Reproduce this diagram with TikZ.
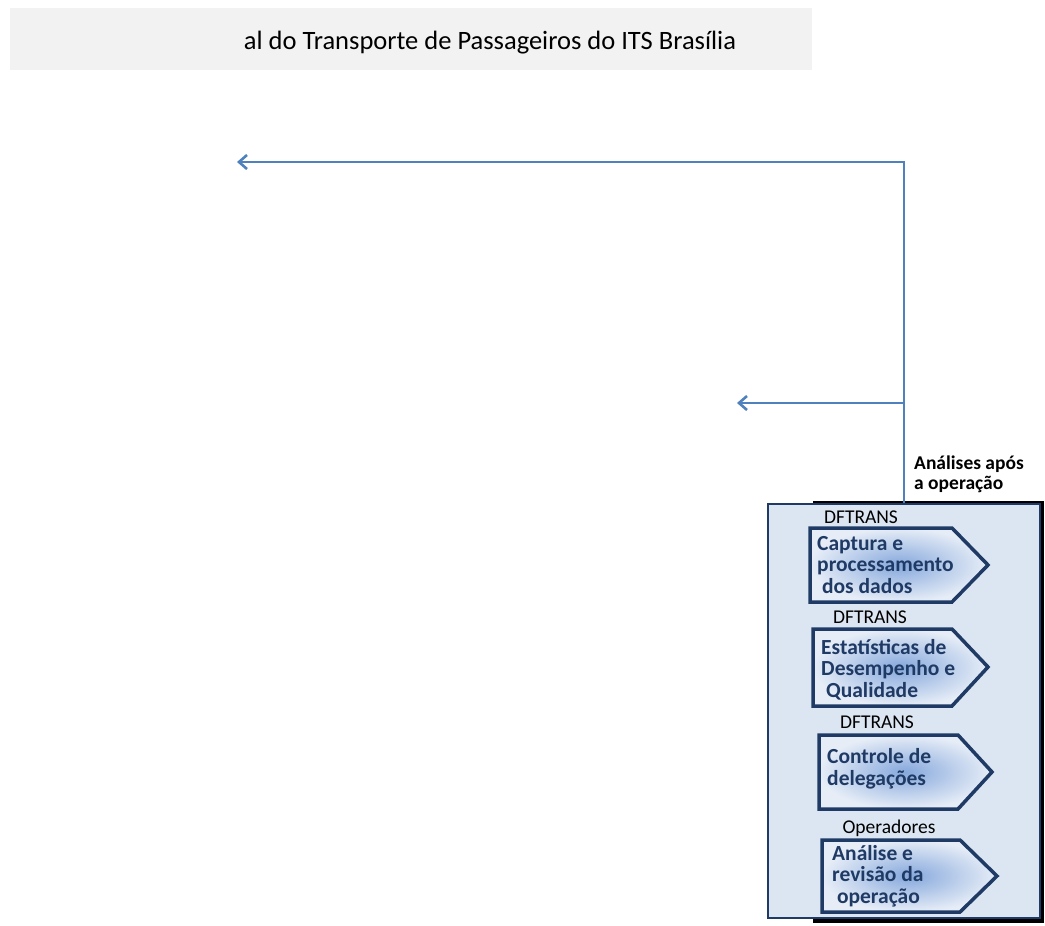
\documentclass[tikz,border=0pt]{standalone}
\usepackage{fontspec}
\setmainfont{Carlito}
\usetikzlibrary{arrows.meta,positioning}
\definecolor{linkblue}{HTML}{4F81BD}
\definecolor{navy}{HTML}{1F3A64}
\definecolor{boxfill}{HTML}{DCE6F2}
\definecolor{titlegray}{HTML}{F2F2F2}
\definecolor{gradin}{HTML}{86A8DC}
\definecolor{gradout}{HTML}{E6EDF7}
\tikzset{
  flow/.style={draw=linkblue, line width=2.6pt, -{Straight Barb[length=8pt,width=14pt,line width=2.6pt]}},
  chev/.style={draw=navy, line width=3.5pt, line join=miter, inner color=gradin, outer color=gradout},
  chevtext/.style={text=navy, font=\fontsize{21.5}{21.5}\selectfont\bfseries, align=left, anchor=base west, inner sep=0pt},
  actor/.style={font=\fontsize{19.5}{20}\selectfont, inner sep=0pt, anchor=base},
}
\begin{document}
\begin{tikzpicture}[x=1pt,y=-1pt]
\useasboundingbox (0,0) rectangle (1045,926);
% title bar
\fill[titlegray] (10,8) rectangle (812,70);
\node[font=\fontsize{26.5}{30}\selectfont, inner sep=0pt, anchor=base] (title) at (490,49) {al do Transporte de Passageiros do ITS Brasília};
% shadow + box
\fill[black] (813,501) rectangle (1044,923);
\node[draw=navy, line width=2pt, fill=boxfill, minimum width=272pt, minimum height=414pt, inner sep=0pt] (box) at (904,711) {};
% connectors
\coordinate (e1) at (237,162);
\coordinate (e2) at (737,403);
\coordinate (j) at (box.north |- e2);
\draw[flow] (box.north) |- (e1);
\draw[flow] (j) -- (e2);
% annotation (base = last line)
\node[font=\fontsize{19.5}{19.5}\selectfont\bfseries, align=left, anchor=base west, inner sep=0pt] (ann) at (914,489) {Análises após\\a operação};
% chevrons
\draw[chev] (810,528) -- (952,528) -- (988,565) -- (952,602) -- (810,602) -- cycle;
\draw[chev] (813,629) -- (952,629) -- (988,667) -- (952,706) -- (813,706) -- cycle;
\draw[chev] (819,735) -- (958,735) -- (992,772) -- (958,809) -- (819,809) -- cycle;
\draw[chev] (822,840) -- (960,840) -- (997,876) -- (960,912) -- (822,912) -- cycle;
% actor labels
\node[actor] (a1) at (861,523) {DFTRANS};
\node[actor] (a2) at (870,623) {DFTRANS};
\node[actor] (a3) at (877,728) {DFTRANS};
\node[actor] (a4) at (889,833) {Operadores};
% chevron texts (base = last line)
\node[chevtext] (c1) at (817,593) {Captura e\\processamento\\\ dos dados};
\node[chevtext] (c2) at (821,697) {Estatísticas de\\Desempenho e\\\ Qualidade};
\node[chevtext] (c3) at (827,785) {Controle de\\delegações};
\node[chevtext] (c4) at (832,903) {Análise e\\revisão da\\\ operação};
\end{tikzpicture}
\end{document}
